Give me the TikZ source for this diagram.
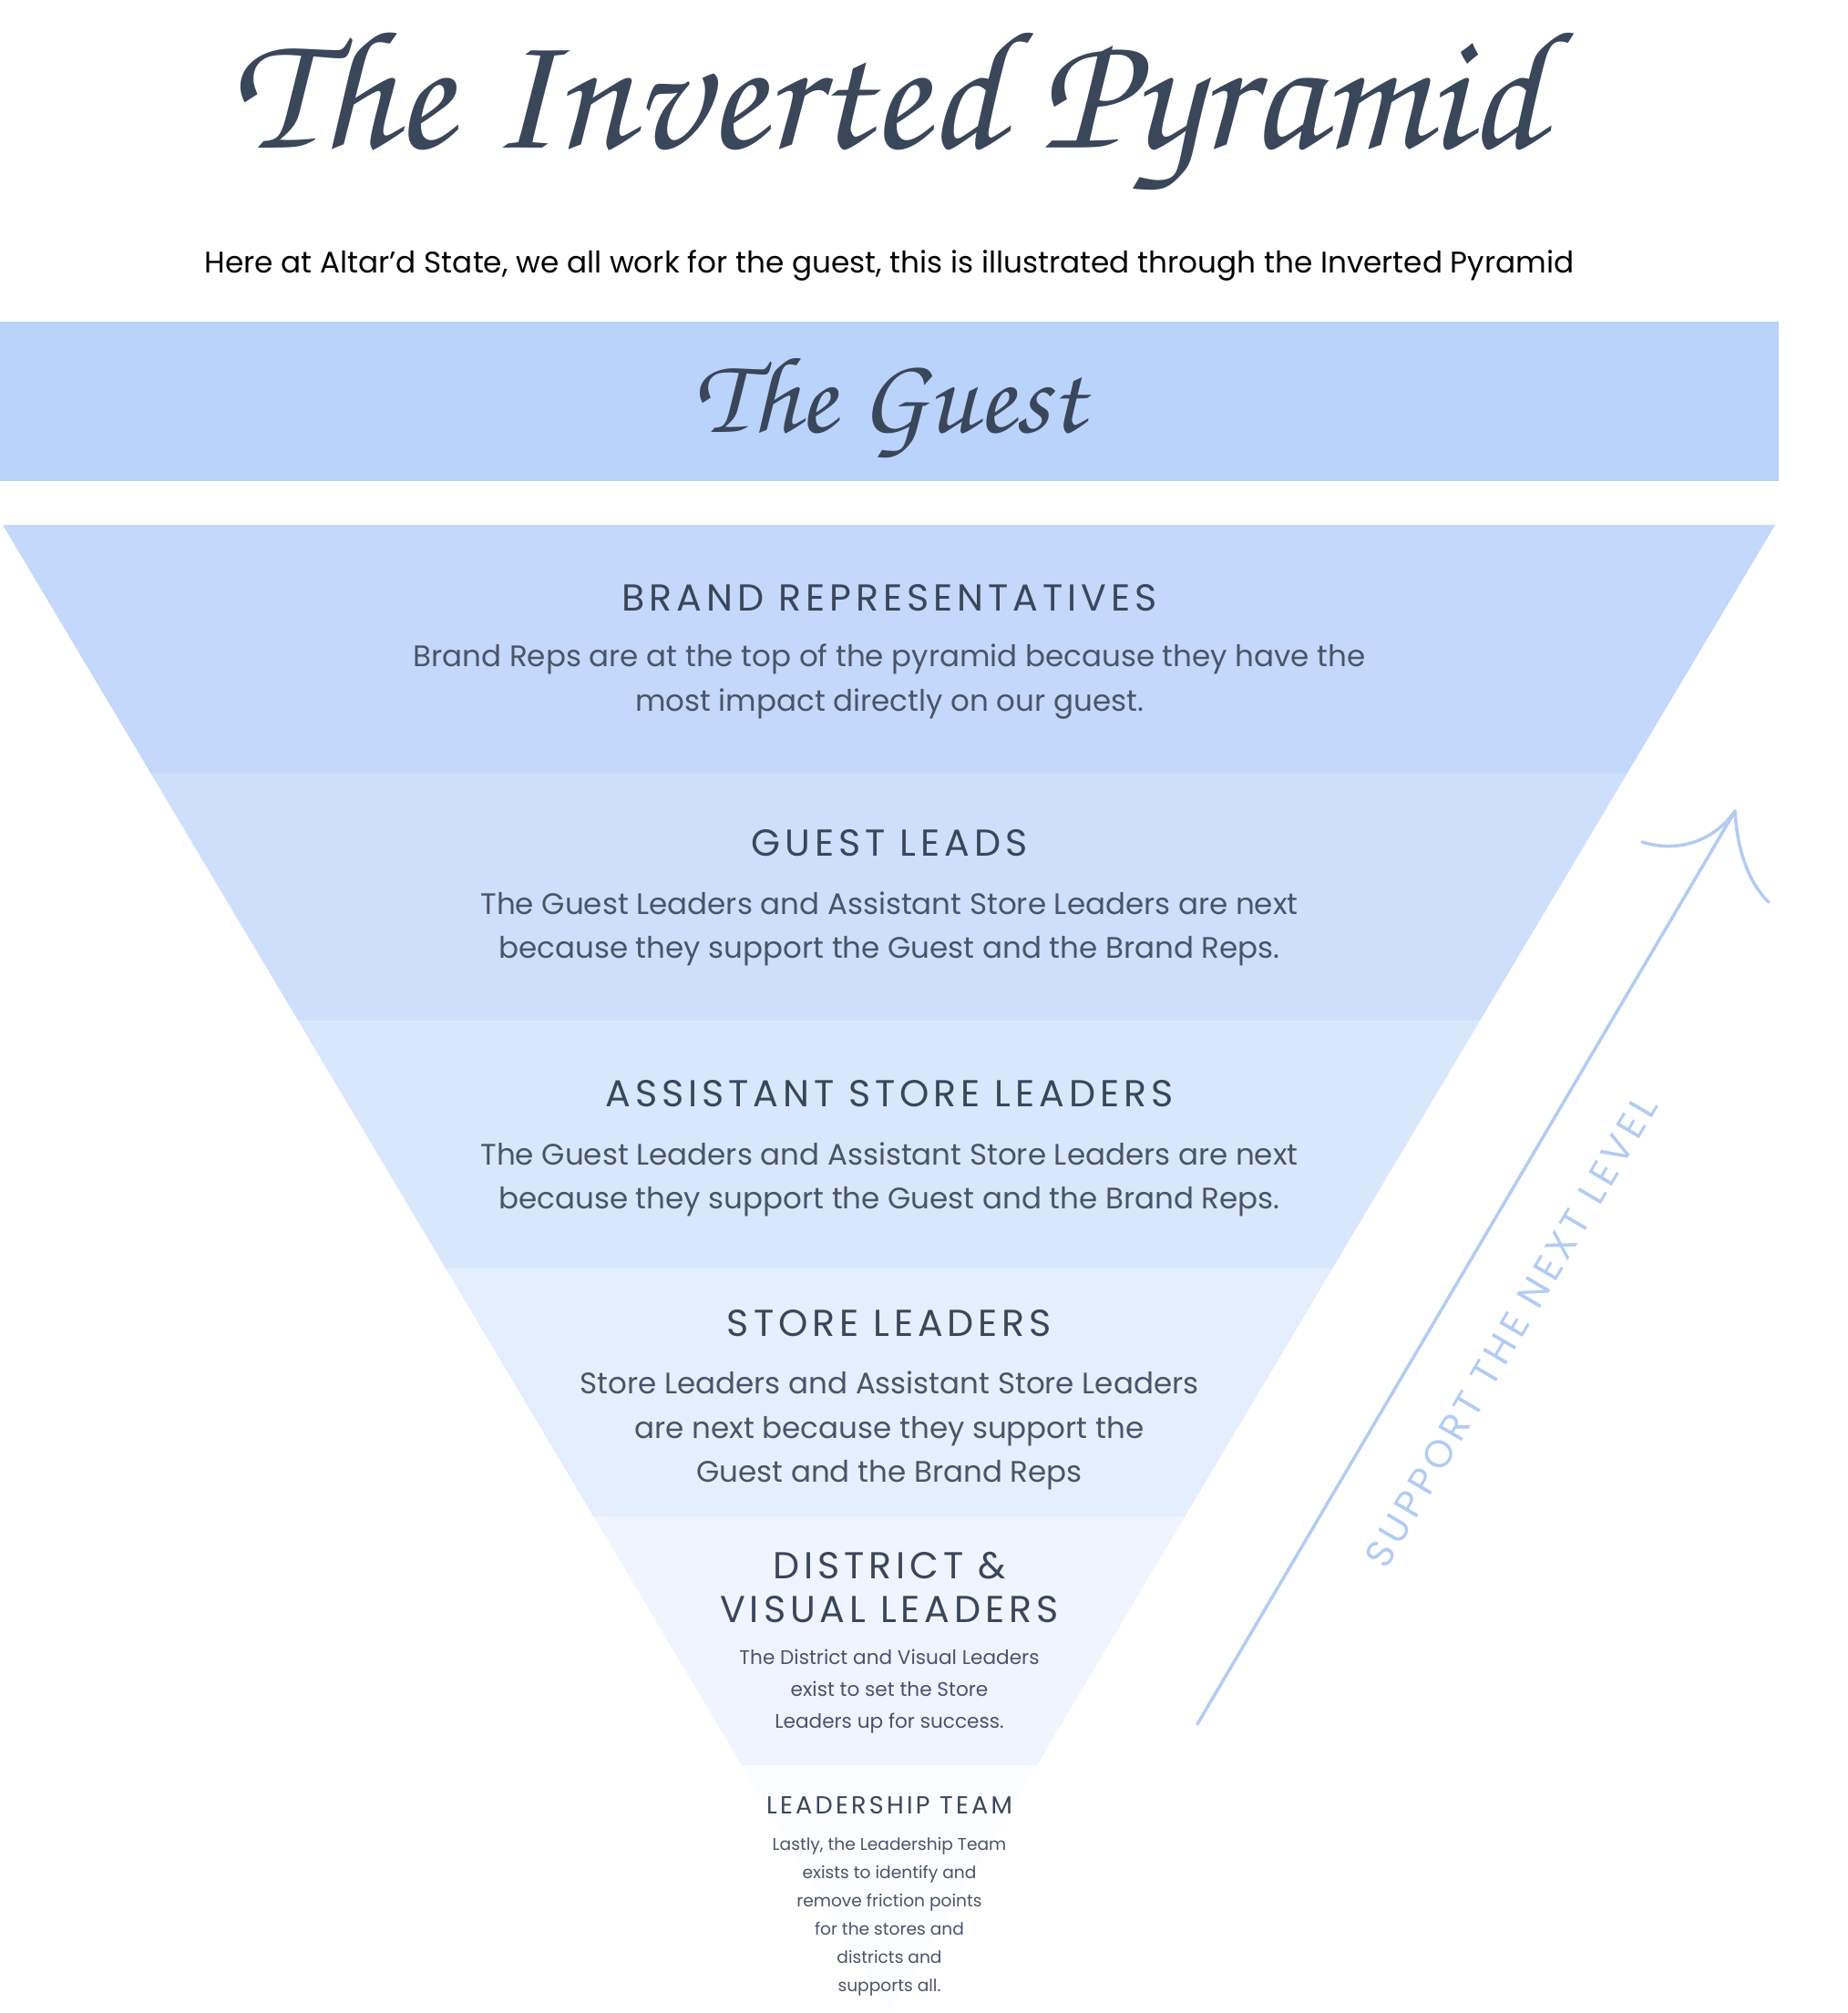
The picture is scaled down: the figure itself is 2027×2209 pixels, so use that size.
\documentclass[tikz,border=0pt]{standalone}
\usepackage[T1]{fontenc}
\usepackage{fontspec}
\setmainfont{Poppins}
\newfontfamily\headfont[LetterSpace=12]{Poppins}
\usepackage{tikz}
\usepackage{xcolor}
\usetikzlibrary{calc}
\definecolor{guestblue}{HTML}{BAD3FA}
\definecolor{tierA}{HTML}{C3D8FA}
\definecolor{tierB}{HTML}{CEDFFB}
\definecolor{tierC}{HTML}{D9E7FC}
\definecolor{tierD}{HTML}{E4EEFD}
\definecolor{tierE}{HTML}{EFF4FE}
\definecolor{tierF}{HTML}{FAFCFF}
\definecolor{slate}{HTML}{3A4659}
\definecolor{bodyink}{HTML}{4A5467}
\definecolor{sketchblue}{HTML}{B2CCF2}
\newcommand\scriptface{\fontencoding{T1}\fontfamily{pzc}\fontseries{mb}\fontshape{it}\selectfont}
\tikzset{
  tierhead/.style={text=slate,font=\headfont\fontsize{11.7}{13.7}\selectfont,
                   align=center,inner sep=0pt},
  tierbody/.style={text=bodyink,font=\fontsize{9.25}{13.7}\selectfont,
                   align=center,inner sep=0pt},
  smallhead/.style={tierhead,font=\headfont\fontsize{7.7}{9}\selectfont},
  smallbody/.style={tierbody,font=\fontsize{6.15}{10}\selectfont},
  tinybody/.style={tierbody,font=\fontsize{5.3}{8.8}\selectfont},
  sketch/.style={draw=sketchblue,line width=1pt,line cap=round}
}
\begin{document}
\begin{tikzpicture}[x=0.01cm,y=-0.01cm]
  \useasboundingbox (0,0) rectangle (2027,2209);

  \node[text=slate,font=\scriptface\fontsize{53}{53}\selectfont,inner sep=0pt] (title) at (973,125) {The Inverted Pyramid};
  \node[text=black,font=\fontsize{9.3}{10}\selectfont,inner sep=0pt] (subtitle) at (976,291)
    {Here at Altar’d State, we all work for the guest, this is illustrated through the Inverted Pyramid};

  \node[fill=guestblue,minimum width=19.51cm,minimum height=1.75cm,inner sep=0pt] (guestband) at (975.5,440.5) {};
  \node[text=slate,font=\scriptface\fontsize{34}{34}\selectfont,inner sep=0pt] (guest) at (976,446) {The Guest};

  % pyramid tiers
  \coordinate (tl) at (3,576);
  \coordinate (tr) at (1948,576);
  \coordinate (apex) at (976,2209);
  \foreach \a/\b/\c in {0/1/tierA,1/2/tierB,2/3/tierC,3/4/tierD,4/5/tierE,5/6/tierF}{
    \fill[\c] ($(tl)!\a/6!(apex)$) -- ($(tr)!\a/6!(apex)$)
      -- ($(tr)!\b/6!(apex)$) -- ($(tl)!\b/6!(apex)$) -- cycle;
  }

  \node[tierhead] (brandhead) at (976,656) {BRAND REPRESENTATIVES};
  \node[tierbody] (brandbody) at (976,748)
    {Brand Reps are at the top of the pyramid because they have the\\most impact directly on our guest.};

  \node[tierhead] (leadshead) at (976,925) {GUEST LEADS};
  \node[tierbody] (leadsbody) at (976,1019)
    {The Guest Leaders and Assistant Store Leaders are next\\because they support the Guest and the Brand Reps.};

  \node[tierhead] (asstshead) at (976,1200) {ASSISTANT STORE LEADERS};
  \node[tierbody] (asstsbody) at (976,1294)
    {The Guest Leaders and Assistant Store Leaders are next\\because they support the Guest and the Brand Reps.};

  \node[tierhead] (storehead) at (976,1452) {STORE LEADERS};
  \node[tierbody] (storebody) at (976,1570)
    {Store Leaders and Assistant Store Leaders\\are next because they support the\\Guest and the Brand Reps};

  \node[tierhead] (districthead) at (976,1742) {DISTRICT \&\\VISUAL LEADERS};
  \node[smallbody] (districtbody) at (976,1856)
    {The District and Visual Leaders\\exist to set the Store\\Leaders up for success.};

  \node[smallhead] (teamhead) at (976,1981) {LEADERSHIP TEAM};
  \node[tinybody] (teambody) at (976,2103)
    {Lastly, the Leadership Team\\exists to identify and\\remove friction points\\for the stores and\\districts and\\supports all.};

  % support arrow
  \coordinate (arrowfoot) at (1314,1892);
  \coordinate (arrowtip) at (1904,890);
  \coordinate (barbleft) at (1802,924);
  \coordinate (barbright) at (1941,990);
  \draw[sketch] (arrowfoot) -- (arrowtip);
  \draw[sketch] (barbleft) .. controls (1840,936) and (1880,924) .. (arrowtip);
  \draw[sketch] (arrowtip) .. controls (1906,930) and (1918,968) .. (barbright);
  \node[text=sketchblue,font=\headfont\fontsize{12}{12}\selectfont,rotate=59.6,inner sep=0pt] (support) at (1658,1461)
    {SUPPORT THE NEXT LEVEL};
\end{tikzpicture}
\end{document}
